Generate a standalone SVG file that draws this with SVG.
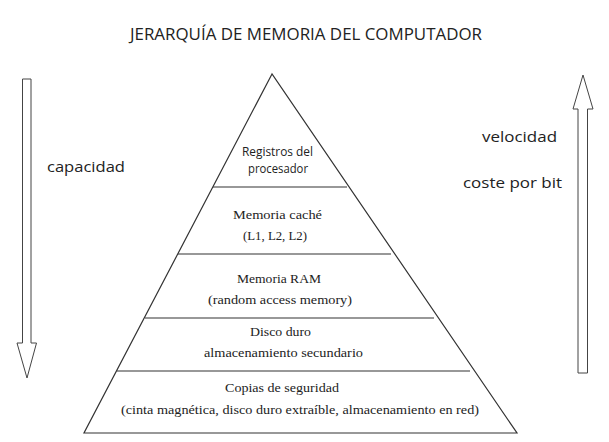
<svg xmlns="http://www.w3.org/2000/svg" width="609" height="442" viewBox="0 0 609 442">
<style>
.t{font-family:"Open Sans","Liberation Sans",sans-serif;fill:#222}
.s{font-family:"Liberation Serif","DejaVu Serif",serif;fill:#222;font-size:12.5px}
.ln{stroke:#333;stroke-width:1.2;fill:none}
.ar{stroke:#444;stroke-width:1;fill:#fff}
</style>
<rect width="609" height="442" fill="#fff"/>
<text class="t" x="130" y="40" font-size="16" textLength="352" lengthAdjust="spacingAndGlyphs">JERARQUÍA DE MEMORIA DEL COMPUTADOR</text>
<g id="connectors">
<path class="ar" d="M22.5,79 H31 V343 H36.5 L27,378 L17,343 H22.5 Z"/>
<path class="ar" d="M578,373 V109 H573 L583,75 L593,109 H587.5 V373 Z"/>
</g>
<g id="pyramid">
<path class="ln" d="M272,74 L84,433 H517 Z"/>
<line class="ln" x1="213" y1="187" x2="347" y2="187"/>
<line class="ln" x1="178" y1="254" x2="391" y2="254"/>
<line class="ln" x1="145" y1="318" x2="434" y2="318"/>
<line class="ln" x1="117" y1="371" x2="470" y2="371"/>
</g>
<g id="n-registros">
<text class="t" x="242" y="156" font-size="12" textLength="71" lengthAdjust="spacingAndGlyphs">Registros del</text>
<text class="t" x="248" y="173" font-size="12" textLength="60" lengthAdjust="spacingAndGlyphs">procesador</text>
</g>
<g id="n-cache">
<text class="s" x="233" y="219" textLength="89" lengthAdjust="spacingAndGlyphs">Memoria caché</text>
<text class="s" x="243" y="240" textLength="64" lengthAdjust="spacingAndGlyphs">(L1, L2, L2)</text>
</g>
<g id="n-ram">
<text class="s" x="237" y="283" textLength="84" lengthAdjust="spacingAndGlyphs">Memoria RAM</text>
<text class="s" x="208" y="304" textLength="144" lengthAdjust="spacingAndGlyphs">(random access memory)</text>
</g>
<g id="n-disco">
<text class="s" x="250" y="336" textLength="61" lengthAdjust="spacingAndGlyphs">Disco duro</text>
<text class="s" x="204" y="357" textLength="159" lengthAdjust="spacingAndGlyphs">almacenamiento secundario</text>
</g>
<g id="n-copias">
<text class="s" x="225" y="392" textLength="114" lengthAdjust="spacingAndGlyphs">Copias de seguridad</text>
<text class="s" x="121" y="414" textLength="358" lengthAdjust="spacingAndGlyphs">(cinta magnética, disco duro extraíble, almacenamiento en red)</text>
</g>
<g id="labels">
<text class="t" x="47" y="172" font-size="15" textLength="78" lengthAdjust="spacingAndGlyphs">capacidad</text>
<text class="t" x="482" y="142" font-size="15" textLength="75" lengthAdjust="spacingAndGlyphs">velocidad</text>
<text class="t" x="463" y="188" font-size="15" textLength="99" lengthAdjust="spacingAndGlyphs">coste por bit</text>
</g>
</svg>
